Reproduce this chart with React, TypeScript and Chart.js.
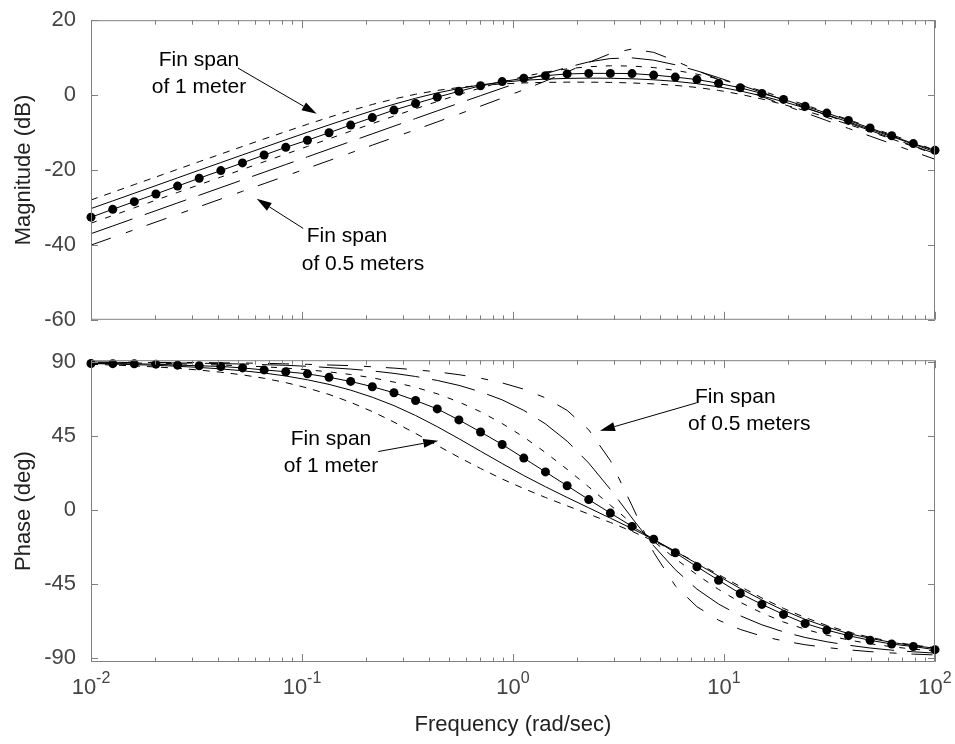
import React, { useEffect, useRef } from 'react';
import { Chart, registerables } from 'chart.js';

Chart.register(...registerables);

// ---------------- data ----------------
const freq = [0.01, 0.01268, 0.01604, 0.02031, 0.02572, 0.03257, 0.04125, 0.05222, 0.06614, 0.08377,
  0.1061, 0.1343, 0.1701, 0.2154, 0.2728, 0.3455, 0.4375, 0.5541, 0.7017, 0.8886,
  1.125, 1.425, 1.805, 2.285, 2.894, 3.665, 4.642, 5.878, 7.443, 9.427,
  11.94, 15.12, 19.15, 24.24, 30.7, 38.88, 49.24, 62.35, 78.96, 100];

// Magnitude (dB)
const magFin100 = [-28.0, -25.95, -23.9, -21.86, -19.81, -17.77, -15.74, -13.72, -11.71, -9.74,
  -7.8, -5.93, -4.14, -2.5, -1.03, 0.23, 1.25, 2.03, 2.6, 2.99,
  3.25, 3.4, 3.46, 3.46, 3.39, 3.24, 2.99, 2.6, 2.04, 1.25,
  0.22, -1.04, -2.51, -4.16, -5.94, -7.82, -9.74, -11.72, -13.73, -15.75];
const magFin090 = [-30.3, -28.25, -26.2, -24.16, -22.1, -20.05, -18.01, -15.97, -13.95, -11.93,
  -9.93, -7.96, -6.04, -4.19, -2.44, -0.84, 0.58, 1.77, 2.72, 3.43,
  3.95, 4.27, 4.46, 4.53, 4.5, 4.36, 4.09, 3.67, 3.05, 2.2,
  1.1, -0.23, -1.76, -3.45, -5.26, -7.16, -9.11, -11.09, -13.11, -15.13];
const magFin080 = [-32.6, -30.5, -28.45, -26.4, -24.3, -22.2, -20.15, -18.1, -16.0, -13.95,
  -12.05, -10.05, -8.0, -6.0, -4.0, -2.25, -0.55, 1.0, 2.5, 3.6,
  4.5, 5.2, 5.65, 5.8, 5.8, 5.75, 5.35, 4.8, 4.15, 3.15,
  1.95, 0.45, -1.15, -3.0, -4.8, -6.75, -8.8, -10.85, -12.95, -14.75];
const magFin070 = [-34.2, -32.15, -30.1, -28.05, -26.0, -23.94, -21.89, -19.85, -17.8, -15.75,
  -13.71, -11.67, -9.63, -7.61, -5.61, -3.64, -1.71, 0.15, 1.9, 3.52,
  4.95, 6.12, 7.01, 7.58, 7.83, 7.75, 7.35, 6.62, 5.6, 4.3,
  2.78, 1.09, -0.72, -2.61, -4.57, -6.56, -8.57, -10.59, -12.63, -14.67];
const magFin060 = [-37.0, -34.95, -32.9, -30.85, -28.79, -26.74, -24.69, -22.64, -20.59, -18.54,
  -16.49, -14.44, -12.38, -10.34, -8.29, -6.25, -4.21, -2.17, -0.15, 1.85,
  3.82, 5.7, 7.42, 8.85, 9.76, 9.94, 9.32, 8.09, 6.48, 4.65,
  2.71, 0.73, -1.29, -3.32, -5.36, -7.41, -9.44, -11.49, -13.54, -15.59];
const magFin050 = [-40.05, -38.0, -35.95, -33.9, -31.84, -29.79, -27.74, -25.69, -23.64, -21.59,
  -19.54, -17.48, -15.42, -13.36, -11.3, -9.24, -7.16, -5.07, -2.95, -0.79,
  1.44, 3.74, 6.18, 8.71, 11.08, 12.31, 11.41, 9.14, 6.61, 4.15,
  1.82, -0.41, -2.59, -4.7, -6.8, -8.89, -10.95, -13.01, -15.07, -17.13];

// Phase (deg)
const phFin100 = [88.5, 88.1, 87.5, 86.9, 86.1, 85.0, 83.7, 82.1, 80.0, 77.4,
  74.1, 70.2, 65.4, 59.8, 53.4, 46.5, 39.2, 32.0, 25.2, 18.8,
  13.0, 7.6, 2.5, -2.5, -7.6, -13.0, -18.9, -25.2, -32.1, -39.3,
  -46.5, -53.5, -59.8, -65.4, -70.2, -74.2, -77.4, -80.0, -82.1, -83.7];
const phFin090 = [89.0, 88.7, 88.3, 87.9, 87.3, 86.6, 85.7, 84.6, 83.2, 81.4,
  79.1, 76.3, 72.8, 68.5, 63.4, 57.4, 50.6, 43.3, 35.7, 28.2,
  20.9, 14.1, 7.6, 1.3, -5.0, -11.3, -18.0, -25.1, -32.6, -40.2,
  -47.7, -54.7, -61.0, -66.5, -71.1, -75.1, -78.0, -80.5, -82.5, -84.0];
const phFin080 = [89.0, 88.9, 88.8, 88.6, 88.0, 87.6, 87.2, 86.3, 85.1, 84.0,
  82.7, 80.6, 78.1, 74.9, 71.2, 66.5, 61.4, 54.7, 47.4, 39.8,
  31.5, 23.1, 14.7, 6.3, -1.9, -10.0, -17.8, -26.0, -34.5, -42.7,
  -50.8, -57.4, -63.5, -69.0, -73.0, -76.4, -79.2, -81.5, -83.0, -84.9];
const phFin070 = [89.5, 89.4, 89.3, 89.1, 88.8, 88.5, 88.1, 87.6, 87.0, 86.2,
  85.2, 83.9, 82.3, 80.3, 77.7, 74.5, 70.6, 65.6, 59.7, 52.5,
  44.3, 34.9, 24.7, 14.0, 2.9, -8.2, -19.1, -29.6, -39.4, -48.3,
  -56.1, -62.6, -68.1, -72.5, -76.1, -79.0, -81.3, -83.1, -84.6, -85.7];
const phFin060 = [89.7, 89.7, 89.6, 89.5, 89.3, 89.2, 88.9, 88.7, 88.3, 87.9,
  87.3, 86.5, 85.6, 84.5, 83.0, 81.1, 78.7, 75.7, 71.8, 66.9,
  60.5, 52.3, 41.8, 28.5, 12.5, -4.9, -21.8, -36.3, -48.1, -57.2,
  -64.3, -69.8, -74.1, -77.5, -80.1, -82.2, -83.9, -85.2, -86.2, -87.0];
const phFin050 = [89.9, 89.8, 89.8, 89.7, 89.6, 89.6, 89.4, 89.3, 89.1, 88.8,
  88.5, 88.1, 87.7, 87.0, 86.2, 85.2, 83.9, 82.2, 80.1, 77.2,
  73.4, 68.1, 60.5, 48.7, 30.0, 2.6, -25.8, -46.1, -58.8, -67.0,
  -72.6, -76.7, -79.6, -81.9, -83.6, -85.0, -86.1, -86.9, -87.6, -88.1];

// Tick labels
const magTicks = [-60, -40, -20, 0, 20];
const phaseTicks = [-90, -45, 0, 45, 90];
const decadeExps = [-2, -1, 0, 1, 2];

// Annotations (data coordinates)
const topNotes = [
  { text: 'Fin span', x: 0.0325, y: 9.25, align: 'center' },
  { text: 'of 1 meter', x: 0.0325, y: 2.16, align: 'center' },
  { text: 'Fin span', x: 0.1053, y: -37.7, align: 'left' },
  { text: 'of 0.5 meters', x: 0.0997, y: -45.05, align: 'left' },
];
const topArrows = [
  { from: [0.0497, 7.23], to: [0.1174, -5.0] },
  { from: [0.1014, -35.6], to: [0.061, -27.7] },
];
const botNotes = [
  { text: 'Fin span', x: 0.1372, y: 43.2, align: 'center' },
  { text: 'of 1 meter', x: 0.1372, y: 26.6, align: 'center' },
  { text: 'Fin span', x: 7.29, y: 68.7, align: 'left' },
  { text: 'of 0.5 meters', x: 6.75, y: 52.2, align: 'left' },
];
const botArrows = [
  { from: [0.2299, 35.5], to: [0.4426, 42.1] },
  { from: [7.42, 65.1], to: [2.585, 48.1] },
];

// ---------------- styling ----------------
const FONT = '"Liberation Sans", Arial, Helvetica, sans-serif';
const TICK_COLOR = '#444444';
const FRAME_COLOR = '#808080';
const TITLE_COLOR = '#222222';

const lineStyles = [
  { dash: [] as number[], marker: true },   // nominal (dots)
  { dash: [7, 7], marker: false },
  { dash: [] as number[], marker: false },
  { dash: [6, 9], marker: false },
  { dash: [44, 13], marker: false },
  { dash: [21, 16, 7, 15], marker: false },
];

function buildDatasets(series: number[][]) {
  return series.map((vals, k) => {
    const st = lineStyles[k];
    return {
      data: freq.map((f, i) => ({ x: f, y: vals[i] })),
      borderColor: '#000',
      borderWidth: 1,
      borderDash: st.dash,
      pointRadius: st.marker ? 4.5 : 0,
      pointHoverRadius: st.marker ? 4.5 : 0,
      pointBackgroundColor: '#000',
      pointBorderColor: '#000',
      pointBorderWidth: 0,
      fill: false,
      tension: 0,
      clip: false as any,
    };
  });
}

function overlayPlugin(id: string, yTicks: number[], showXLabels: boolean, notes: any[], arrows: any[]) {
  return {
    id,
    afterDraw(chart: any) {
      const { ctx, chartArea } = chart;
      const { left, right, top, bottom } = chartArea;
      const xs = chart.scales.x;
      const ys = chart.scales.y;
      ctx.save();
      // frame
      ctx.strokeStyle = FRAME_COLOR;
      ctx.lineWidth = 1;
      ctx.beginPath();
      ctx.rect(left + 0.5, top + 0.5, right - left - 1, bottom - top - 1);
      ctx.stroke();
      // x ticks (top and bottom, inward)
      ctx.beginPath();
      for (let d = 0; d < decadeExps.length; d++) {
        const e = decadeExps[d];
        const maxM = d === decadeExps.length - 1 ? 1 : 9;
        for (let m = 1; m <= maxM; m++) {
          const px = Math.round(xs.getPixelForValue(m * Math.pow(10, e))) + 0.5;
          const len = m === 1 ? 8 : 4.5;
          ctx.moveTo(px, bottom);
          ctx.lineTo(px, bottom - len);
          ctx.moveTo(px, top);
          ctx.lineTo(px, top + len);
        }
      }
      // y ticks (left and right, inward)
      for (const v of yTicks) {
        const py = Math.round(ys.getPixelForValue(v)) + 0.5;
        ctx.moveTo(left, py);
        ctx.lineTo(left + 7, py);
        ctx.moveTo(right, py);
        ctx.lineTo(right - 7, py);
      }
      ctx.stroke();

      // x tick labels 10^n
      if (showXLabels) {
        ctx.fillStyle = TICK_COLOR;
        ctx.textBaseline = 'alphabetic';
        ctx.textAlign = 'left';
        for (const e of decadeExps) {
          const px = xs.getPixelForValue(Math.pow(10, e));
          ctx.font = `22px ${FONT}`;
          const w1 = ctx.measureText('10').width;
          const expStr = String(e);
          ctx.font = `16px ${FONT}`;
          const w2 = ctx.measureText(expStr).width;
          const x0 = px - (w1 + w2) / 2;
          ctx.font = `22px ${FONT}`;
          ctx.fillText('10', x0, bottom + 32);
          ctx.font = `16px ${FONT}`;
          ctx.fillText(expStr, x0 + w1, bottom + 21);
        }
      }

      // annotations
      ctx.fillStyle = '#000';
      ctx.font = `21px ${FONT}`;
      ctx.textBaseline = 'middle';
      for (const n of notes) {
        ctx.textAlign = n.align;
        ctx.fillText(n.text, xs.getPixelForValue(n.x), ys.getPixelForValue(n.y));
      }
      ctx.strokeStyle = '#000';
      ctx.lineWidth = 1;
      for (const a of arrows) {
        const x0 = xs.getPixelForValue(a.from[0]);
        const y0 = ys.getPixelForValue(a.from[1]);
        const x1 = xs.getPixelForValue(a.to[0]);
        const y1 = ys.getPixelForValue(a.to[1]);
        const ang = Math.atan2(y1 - y0, x1 - x0);
        const hl = 15, hw = 4.5;
        const bx = x1 - hl * Math.cos(ang);
        const by = y1 - hl * Math.sin(ang);
        ctx.beginPath();
        ctx.moveTo(x0, y0);
        ctx.lineTo(bx, by);
        ctx.stroke();
        ctx.beginPath();
        ctx.moveTo(x1, y1);
        ctx.lineTo(bx + hw * Math.sin(ang), by - hw * Math.cos(ang));
        ctx.lineTo(bx - hw * Math.sin(ang), by + hw * Math.cos(ang));
        ctx.closePath();
        ctx.fill();
      }
      ctx.restore();
    },
  };
}

function makeConfig(opts: {
  series: number[][]; yMin: number; yMax: number; yTicks: number[]; yTitle: string;
  padTop: number; xHeight: number; xTitle: string | null; notes: any[]; arrows: any[]; id: string;
}) {
  return {
    type: 'line' as const,
    data: { datasets: buildDatasets(opts.series) as any },
    options: {
      responsive: false,
      maintainAspectRatio: false,
      animation: false as const,
      events: [] as any,
      layout: { padding: { top: opts.padTop, right: 20, bottom: 0, left: 0 } },
      plugins: { legend: { display: false }, tooltip: { enabled: false } },
      scales: {
        x: {
          type: 'logarithmic' as const,
          min: 0.01,
          max: 100,
          grid: { display: false },
          border: { display: false },
          ticks: { display: false },
          title: opts.xTitle
            ? { display: true, text: opts.xTitle, color: TITLE_COLOR, font: { family: FONT, size: 22 }, padding: { top: 0, bottom: 6 } }
            : { display: false },
          afterFit: (s: any) => { s.height = opts.xHeight; },
        },
        y: {
          type: 'linear' as const,
          min: opts.yMin,
          max: opts.yMax,
          afterBuildTicks: (s: any) => { s.ticks = opts.yTicks.map((v) => ({ value: v })); },
          grid: { display: false },
          border: { display: false },
          ticks: { color: TICK_COLOR, font: { family: FONT, size: 22 }, padding: 7 },
          title: { display: true, text: opts.yTitle, color: TITLE_COLOR, font: { family: FONT, size: 22 }, padding: { top: 11, bottom: 0 } },
          afterFit: (s: any) => { s.width = 91; },
        },
      },
    },
    plugins: [overlayPlugin(opts.id, opts.yTicks, !!opts.xTitle, opts.notes, opts.arrows)],
  };
}

export default function App() {
  const topRef = useRef<HTMLCanvasElement>(null);
  const botRef = useRef<HTMLCanvasElement>(null);

  useEffect(() => {
    const c1 = new Chart(topRef.current as HTMLCanvasElement, makeConfig({
      id: 'overlayTop',
      series: [magFin080, magFin100, magFin090, magFin070, magFin060, magFin050],
      yMin: -60, yMax: 20, yTicks: magTicks, yTitle: 'Magnitude (dB)',
      padTop: 18, xHeight: 17, xTitle: null, notes: topNotes, arrows: topArrows,
    }) as any);
    const c2 = new Chart(botRef.current as HTMLCanvasElement, makeConfig({
      id: 'overlayBot',
      series: [phFin080, phFin100, phFin090, phFin070, phFin060, phFin050],
      yMin: -92.4, yMax: 91, yTicks: phaseTicks, yTitle: 'Phase (deg)',
      padTop: 17, xHeight: 82, xTitle: 'Frequency (rad/sec)', notes: botNotes, arrows: botArrows,
    }) as any);
    return () => { c1.destroy(); c2.destroy(); };
  }, []);

  return (
    <div style={{ position: 'absolute', left: 0, top: 0, width: 955, height: 744, background: '#ffffff' }}>
      <canvas ref={topRef} width={955} height={340} style={{ position: 'absolute', left: 0, top: 0 }} />
      <canvas ref={botRef} width={955} height={404} style={{ position: 'absolute', left: 0, top: 340 }} />
    </div>
  );
}
